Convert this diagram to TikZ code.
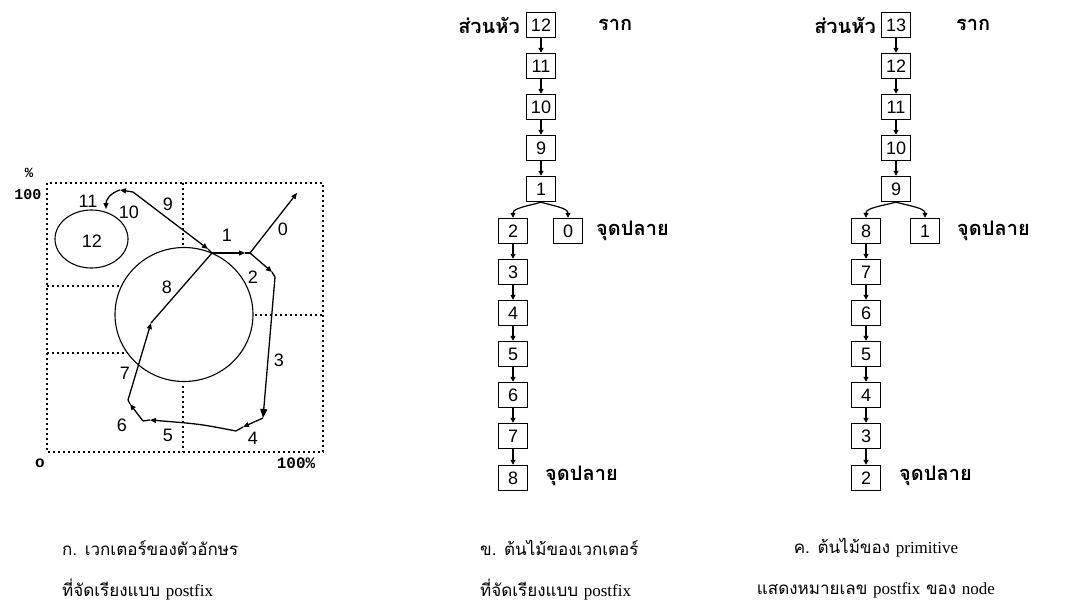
\documentclass[tikz,border=0pt]{standalone}
\usepackage{fontspec}
\setmainfont{Liberation Serif}
\newfontfamily\thai[Script=Thai]{Loma}
\newfontfamily\dig{Liberation Sans}
\newfontfamily\mono{Liberation Mono}
\usetikzlibrary{arrows.meta}
\tikzset{
  bx/.style={draw, line width=1.4pt, minimum width=29pt, minimum height=25pt, inner sep=0pt, font=\dig\fontsize{18}{18}\selectfont},
  lk/.style={line width=1.2pt, -{Triangle[length=5pt,width=5pt]}},
  th/.style={font=\thai\bfseries\fontsize{20}{22}\selectfont, inner sep=0pt},
  capt/.style={font=\thai\fontsize{17}{19}\selectfont, inner sep=0pt, anchor=west},
  pth/.style={line width=1.3pt},
  tip/.style={-{Triangle[length=6pt,width=5pt]}},
  bigtip/.style={-{Triangle[length=9pt,width=7pt]}},
  gridl/.style={line width=1.6pt, dash pattern=on 1.6pt off 3.4pt},
  lbl/.style={font=\dig\fontsize{18}{18}\selectfont, inner sep=0pt},
}
\begin{document}
\begin{tikzpicture}[x=1pt,y=-1pt]
\useasboundingbox (0,0) rectangle (1065,611);
% ---------- panel a ----------
\draw[gridl] (47,183) rectangle (323,452);
\draw[gridl] (183,183) -- (183,247);
\draw[gridl] (183,386) -- (183,452);
\draw[gridl] (47,286) -- (120,286);
\draw[gridl] (47,353) -- (128,353);
\draw[gridl] (255,315) -- (323,315);
\draw[line width=1.1pt] (184,314.5) ellipse [x radius=69pt, y radius=67pt];
\draw[line width=1.1pt] (91.5,239) ellipse [x radius=36.5pt, y radius=29pt];
\coordinate (J) at (212,253);
\coordinate (A) at (250,253);
\coordinate (O) at (297,193);
\coordinate (C) at (275,277);
\coordinate (D) at (263,418);
\coordinate (E) at (236,431);
\coordinate (F) at (143,421);
\coordinate (G) at (128,400);
\coordinate (H) at (151,323);
\coordinate (K) at (120,190);
\coordinate (L) at (133,192);
\draw[pth,tip] (J) -- (245,253);
\draw[pth] (245,253) -- (A);
\draw[pth,tip] (A) -- (O);
\draw[pth,tip] (A) -- (272,272);
\draw[pth] (272,272) -- (C);
\draw[pth,bigtip] (C) -- (D);
\draw[pth,tip] (D) -- (243,427);
\draw[pth] (243,427) -- (E);
\draw[pth,tip] (E) .. controls (200,424) .. (150,420);
\draw[pth] (150,420) -- (F);
\draw[pth,tip] (F) -- (130,404);
\draw[pth] (130,404) -- (G);
\draw[pth,tip] (G) -- (H);
\draw[pth] (H) -- (J);
\draw[pth,tip] (L) -- (208,249);
\draw[pth] (208,249) -- (J);
\draw[pth,tip] (L) -- (K);
\draw[pth,tip] (K) .. controls (110,193) and (106,200) .. (106,209);
\node[lbl] (l0) at (283,229) {0};
\node[lbl] (l1) at (227,235) {1};
\node[lbl] (l2) at (253,277) {2};
\node[lbl] (l3) at (279,360) {3};
\node[lbl] (l4) at (253,438) {4};
\node[lbl] (l5) at (168,435) {5};
\node[lbl] (l6) at (122,425) {6};
\node[lbl] (l7) at (125,373) {7};
\node[lbl] (l8) at (167,287) {8};
\node[lbl] (l9) at (168,204) {9};
\node[lbl] (l10) at (129,212) {10};
\node[lbl] (l11) at (88,201) {11};
\node[lbl] (l12) at (92,241) {12};
\node[lbl, font=\mono\bfseries\fontsize{14}{14}\selectfont] (pc) at (29,173) {\%};
\node[lbl, font=\mono\bfseries\fontsize{15}{15}\selectfont] (h1) at (28,195) {100};
\node[lbl, font=\mono\bfseries\fontsize{16}{16}\selectfont] (o) at (40,463) {o};
\node[lbl, font=\mono\bfseries\fontsize{16}{16}\selectfont] (h2) at (296,463) {100\%};
% ---------- panel b ----------
\node[bx] (m12) at (541,25) {12};
\node[bx] (m11) at (541,66) {11};
\node[bx] (m10) at (541,107) {10};
\node[bx] (m9) at (541,148) {9};
\node[bx] (m1) at (541,189) {1};
\node[bx] (m2) at (513,231) {2};
\node[bx] (m0) at (568,231) {0};
\node[bx] (m3) at (513,272) {3};
\node[bx] (m4) at (513,313) {4};
\node[bx] (m5) at (513,354) {5};
\node[bx] (m6) at (513,395) {6};
\node[bx] (m7) at (513,436) {7};
\node[bx] (m8) at (513,478) {8};
\foreach \a/\b in {m12/m11,m11/m10,m10/m9,m9/m1,m2/m3,m3/m4,m4/m5,m5/m6,m6/m7,m7/m8}
  \draw[lk] (\a.south) -- (\b.north);
\draw[lk] (m1.south) .. controls (528,206) and (513,208) .. (m2.north);
\draw[lk] (m1.south) .. controls (554,206) and (568,208) .. (m0.north);
\node[th, anchor=east] (mh) at (520,25) {ส่วนหัว};
\node[th, anchor=west] (mr) at (598,25) {ราก};
\node[th, anchor=west] (me1) at (596,231) {จุดปลาย};
\node[th, anchor=west] (me2) at (545,476) {จุดปลาย};
% ---------- panel c ----------
\node[bx] (r13) at (896,25) {13};
\node[bx] (r12) at (896,66) {12};
\node[bx] (r11) at (896,107) {11};
\node[bx] (r10) at (896,148) {10};
\node[bx] (r9) at (896,189) {9};
\node[bx] (r8) at (866,231) {8};
\node[bx] (r1) at (925,231) {1};
\node[bx] (r7) at (866,272) {7};
\node[bx] (r6) at (866,313) {6};
\node[bx] (r5) at (866,354) {5};
\node[bx] (r4) at (866,395) {4};
\node[bx] (r3) at (866,436) {3};
\node[bx] (r2) at (866,478) {2};
\foreach \a/\b in {r13/r12,r12/r11,r11/r10,r10/r9,r8/r7,r7/r6,r6/r5,r5/r4,r4/r3,r3/r2}
  \draw[lk] (\a.south) -- (\b.north);
\draw[lk] (r9.south) .. controls (881,206) and (866,208) .. (r8.north);
\draw[lk] (r9.south) .. controls (910,206) and (925,208) .. (r1.north);
\node[th, anchor=east] (rh) at (876,25) {ส่วนหัว};
\node[th, anchor=west] (rr) at (956,25) {ราก};
\node[th, anchor=west] (re1) at (957,231) {จุดปลาย};
\node[th, anchor=west] (re2) at (899,476) {จุดปลาย};
% ---------- captions ----------
\node[capt] (ca1) at (62,548) {ก. เวกเตอร์ของตัวอักษร};
\node[capt] (ca2) at (62,590) {ที่จัดเรียงแบบ {\rmfamily postfix}};
\node[capt] (cb1) at (480,548) {ข. ต้นไม้ของเวกเตอร์};
\node[capt] (cb2) at (480,590) {ที่จัดเรียงแบบ {\rmfamily postfix}};
\node[capt, anchor=center] (cc1) at (876,548) {ค. ต้นไม้ของ {\rmfamily primitive}};
\node[capt, anchor=center] (cc2) at (876,590) {แสดงหมายเลข {\rmfamily postfix} ของ {\rmfamily node}};
\end{tikzpicture}
\end{document}
